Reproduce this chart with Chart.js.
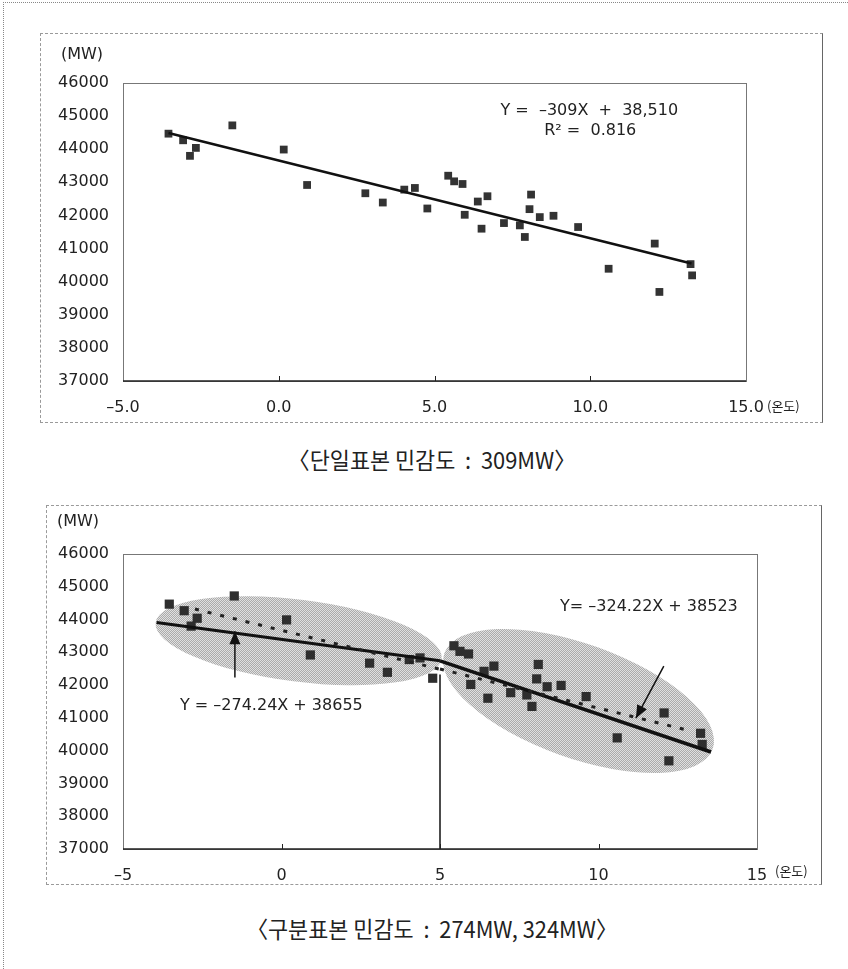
<!DOCTYPE html>
<html>
<head>
<meta charset="utf-8">
<script src="https://cdn.jsdelivr.net/npm/chart.js@4.4.1/dist/chart.umd.min.js"></script>
<style>
  body { margin: 0; background: #fff; width: 848px; height: 969px; position: relative; overflow: hidden; font-family: "DejaVu Sans", sans-serif; color: #222; }
  #frame { position: absolute; left: 3px; top: 2px; width: 900px; height: 1000px; border-left: 1px dotted #888; border-top: 1px dotted #888; }
  .box { position: absolute; border: 1px dashed #9a9a9a; border-right: 1px solid #666; }
  .box canvas { position: absolute; left: 0; top: 0; }
  .unit { position: absolute; font-size: 16px; }
  .deg { position: absolute; font-size: 13px; font-family: "Noto Sans CJK KR", sans-serif; }
  .cap { position: absolute; left: 8px; width: 848px; text-align: center; white-space: pre; font-family: "Noto Sans CJK KR", sans-serif; font-size: 23px; transform: scaleX(0.95); color: #222; }
</style>
</head>
<body>
<div id="frame"></div>

<div class="box" id="box1" style="left:40px;top:33px;width:781px;height:388px">
  <canvas id="single" width="781" height="388"></canvas>
</div>
<div class="unit" style="left:61px;top:44px">(MW)</div>
<div class="deg" style="left:767px;top:396px">(온도)</div>
<div class="cap" style="top:442px">〈단일표본 민감도  :  309MW〉</div>

<div class="box" id="box2" style="left:46px;top:505px;width:774px;height:378px">
  <canvas id="split" width="774" height="378"></canvas>
</div>
<div class="unit" style="left:57px;top:511px">(MW)</div>
<div class="deg" style="left:775px;top:861px">(온도)</div>
<div class="cap" style="top:911px">〈구분표본 민감도  :  274MW, 324MW〉</div>

<script>
// temperature (온도) and load (MW)
const temps = [-3.54, -3.07, -2.85, -2.66, -1.49, 0.16, 0.91, 2.78, 3.34, 4.03, 4.37, 4.77,
  5.44, 5.63, 5.90, 5.97, 6.39, 6.70, 6.51, 7.23, 7.74, 7.90, 8.10, 8.05, 8.38, 8.82,
  9.61, 10.59, 12.07, 12.22, 13.22, 13.27];
const loads = [44470, 44270, 43800, 44040, 44720, 43990, 42920, 42670, 42390, 42780, 42830, 42210,
  43200, 43030, 42950, 42020, 42420, 42580, 41600, 41770, 41700, 41350, 42630, 42190, 41950, 41990,
  41650, 40390, 41150, 39690, 40530, 40190];

const yTicks = { min: 37000, max: 46000, step: 1000 };
const xTicks = { min: -5, max: 15, step: 5 };

// fitted lines as drawn
const trendAll = [[-3.54, 44490], [13.25, 40550]];
const solidLow = [[-3.94, 43910], [5.0, 42740]];
const solidHigh = [[5.0, 42740], [13.55, 39960]];
const dotLow = [[-2.73, 44320], [4.97, 42490]];
const dotHigh = [[5.0, 42490], [12.75, 40640]];
const splitMark = [[5, 37000], [5, 42320]];

const eqSingle = ['Y =  \u2013309X  +  38,510', 'R\u00b2 =  0.816'];
const eqLow = 'Y = \u2013274.24X + 38655';
const eqHigh = 'Y= \u2013324.22X + 38523';

const pts = temps.map((t, i) => ({ x: t, y: loads[i] }));
const xy = arr => arr.map(p => ({ x: p[0], y: p[1] }));

function stipple() {
  const c = document.createElement('canvas');
  c.width = c.height = 2;
  const g = c.getContext('2d');
  g.fillStyle = '#e0e0e0'; g.fillRect(0, 0, 2, 2);
  g.fillStyle = '#ababab'; g.fillRect(0, 0, 1, 1); g.fillRect(1, 1, 1, 1);
  return g.createPattern(c, 'repeat');
}

const decor = {
  id: 'decor',
  beforeDatasetsDraw(chart, args, opts) {
    const { ctx, scales: { x, y } } = chart;
    ctx.save();
    ctx.fillStyle = stipple();
    (opts.ellipses || []).forEach(e => {
      const x1 = x.getPixelForValue(e.from[0]), y1 = y.getPixelForValue(e.from[1]);
      const x2 = x.getPixelForValue(e.to[0]), y2 = y.getPixelForValue(e.to[1]);
      ctx.beginPath();
      ctx.ellipse((x1 + x2) / 2, (y1 + y2) / 2, Math.hypot(x2 - x1, y2 - y1) / 2, e.minor,
        Math.atan2(y2 - y1, x2 - x1), 0, Math.PI * 2);
      ctx.fill();
    });
    ctx.restore();
  },
  afterDatasetsDraw(chart, args, opts) {
    const { ctx, chartArea: a, scales: { x, y } } = chart;
    ctx.save();
    // plot frame
    ctx.strokeStyle = '#777';
    ctx.lineWidth = 1;
    ctx.strokeRect(a.left + 0.5, a.top + 0.5, a.width, a.height);
    ctx.strokeStyle = '#222';
    ctx.lineWidth = 1.5;
    ctx.beginPath(); ctx.moveTo(a.left, a.bottom); ctx.lineTo(a.right, a.bottom); ctx.stroke();
    // small inside ticks on the x axis
    ctx.lineWidth = 1;
    x.ticks.forEach(t => {
      if (t.value <= x.min || t.value >= x.max) return;
      const px = Math.round(x.getPixelForValue(t.value)) + 0.5;
      ctx.beginPath(); ctx.moveTo(px, a.bottom); ctx.lineTo(px, a.bottom - 5); ctx.stroke();
    });
    // arrows
    ctx.fillStyle = '#111';
    ctx.strokeStyle = '#111';
    (opts.arrows || []).forEach(ar => {
      const x1 = x.getPixelForValue(ar[0][0]), y1 = y.getPixelForValue(ar[0][1]);
      const x2 = x.getPixelForValue(ar[1][0]), y2 = y.getPixelForValue(ar[1][1]);
      const ang = Math.atan2(y2 - y1, x2 - x1);
      ctx.lineWidth = 1.5;
      ctx.beginPath(); ctx.moveTo(x1, y1); ctx.lineTo(x2, y2); ctx.stroke();
      ctx.beginPath();
      ctx.moveTo(x2, y2);
      ctx.lineTo(x2 - 13 * Math.cos(ang) + 5.5 * Math.sin(ang), y2 - 13 * Math.sin(ang) - 5.5 * Math.cos(ang));
      ctx.lineTo(x2 - 13 * Math.cos(ang) - 5.5 * Math.sin(ang), y2 - 13 * Math.sin(ang) + 5.5 * Math.cos(ang));
      ctx.closePath();
      ctx.fill();
    });
    // equations
    ctx.font = '16px "DejaVu Sans"';
    ctx.fillStyle = '#222';
    ctx.textAlign = 'center';
    ctx.textBaseline = 'middle';
    (opts.labels || []).forEach(l => {
      ctx.fillText(l.text, x.getPixelForValue(l.at[0]), y.getPixelForValue(l.at[1]));
    });
    ctx.restore();
  }
};

const tickFont = { family: 'DejaVu Sans', size: 16 };

function makeChart(id, datasets, fmt, box, decorOpts) {
  return new Chart(document.getElementById(id), {
    type: 'scatter',
    data: { datasets },
    plugins: [decor],
    options: {
      responsive: false,
      animation: false,
      layout: { padding: { left: 0, right: box.right, top: box.top, bottom: 0 } },
      scales: {
        x: {
          type: 'linear', min: xTicks.min, max: xTicks.max,
          grid: { display: false, drawTicks: false },
          border: { display: false },
          ticks: { stepSize: xTicks.step, padding: box.xPad, maxRotation: 0, color: '#222', font: tickFont, callback: fmt },
          afterFit: s => { s.height = box.xh; }
        },
        y: {
          min: yTicks.min, max: yTicks.max,
          grid: { display: false, drawTicks: false },
          border: { display: false },
          ticks: { stepSize: yTicks.step, padding: 14, color: '#222', font: tickFont, callback: v => String(v) },
          afterFit: s => { s.width = box.yw; }
        }
      },
      plugins: { legend: { display: false }, tooltip: { enabled: false }, decor: decorOpts }
    }
  });
}

const dash = v => (v < 0 ? '\u2013' : '') + Math.abs(v);

makeChart('single', [
  { data: xy(trendAll), showLine: true, borderColor: '#111', borderWidth: 2.5, pointRadius: 0 },
  { data: pts, pointStyle: 'rect', radius: 5.5, backgroundColor: '#333', borderWidth: 0 }
], v => (v < 0 ? '\u2013' : '') + Math.abs(v).toFixed(1),
  { right: 76, top: 49, xh: 41, yw: 82, xPad: 17 },
  { labels: [{ text: eqSingle[0], at: [9.97, 45170] }, { text: eqSingle[1], at: [10.0, 44560] }] });

makeChart('split', [
  { data: xy(splitMark), showLine: true, borderColor: '#111', borderWidth: 1.5, pointRadius: 0 },
  { data: xy(dotLow), showLine: true, borderColor: '#222', borderWidth: 3, borderDash: [4, 9], pointRadius: 0 },
  { data: xy(dotHigh), showLine: true, borderColor: '#222', borderWidth: 3, borderDash: [4, 9], pointRadius: 0 },
  { data: xy(solidLow), showLine: true, borderColor: '#111', borderWidth: 3, pointRadius: 0 },
  { data: xy(solidHigh), showLine: true, borderColor: '#111', borderWidth: 3.5, pointRadius: 0 },
  { data: pts, pointStyle: 'rect', radius: 6.5, backgroundColor: '#2e2e2e', borderWidth: 0 }
], dash,
  { right: 64, top: 48, xh: 35, yw: 76, xPad: 17 },
  {
    ellipses: [
      { from: [-3.97, 43910], to: [5.05, 42800], minor: 41 },
      { from: [5.14, 42980], to: [13.6, 40050], minor: 57 }
    ],
    arrows: [
      [[-1.47, 42230], [-1.47, 43640]],
      [[12.06, 42580], [11.18, 40990]]
    ],
    labels: [{ text: eqLow, at: [-0.32, 41370] }, { text: eqHigh, at: [11.59, 44390] }]
  });
</script>
</body>
</html>
